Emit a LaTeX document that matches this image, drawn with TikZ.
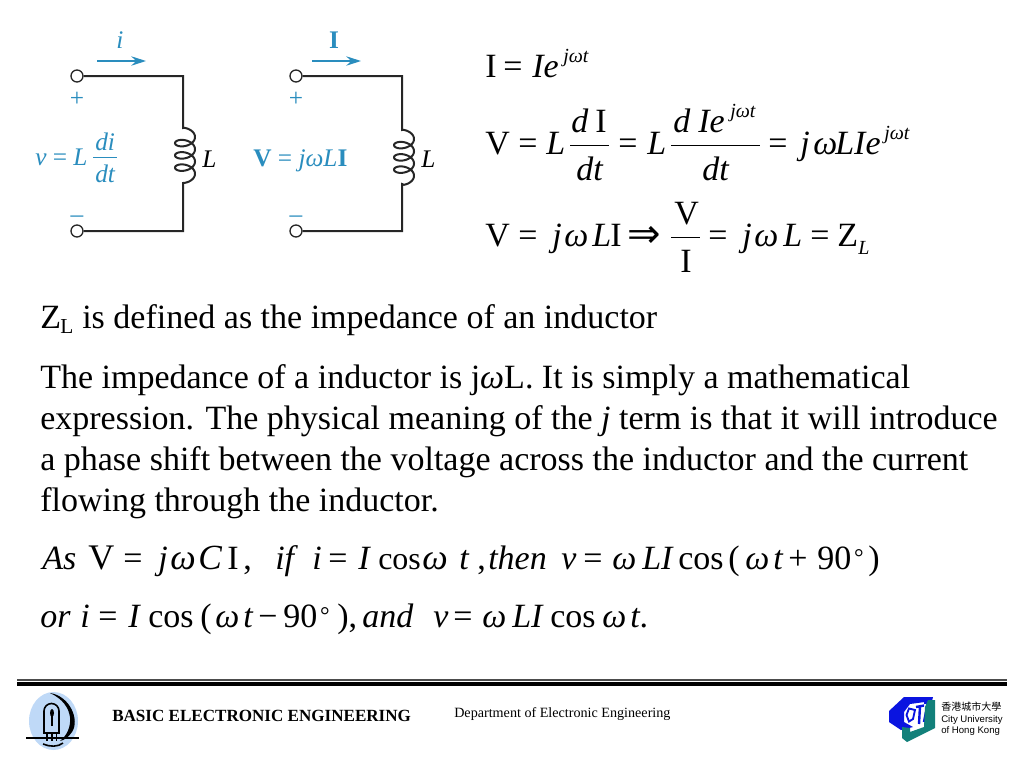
\documentclass[tikz,border=0pt]{standalone}
\usepackage{fontspec}
\setmainfont{Liberation Serif}
\newfontfamily\cjkfont{Noto Sans CJK TC}
\newfontfamily\logofont{Liberation Sans}
\newfontfamily\arrowfont{DejaVu Sans}
\usepackage{xcolor}
\usetikzlibrary{arrows.meta}
\definecolor{circuitblue}{HTML}{2A8DBE}
\definecolor{bulbblue}{HTML}{BFD9F7}
\definecolor{cityblue}{HTML}{0A14E0}
\definecolor{cityteal}{HTML}{12807A}
\newcommand{\iw}{\textit{ω}}
\newcommand{\bw}{{\fontsize{27}{27}\selectfont\textit{ω}}}
\newcommand{\degr}{\kern2.2pt\raisebox{3pt}{\fontsize{18}{18}\selectfont °}}
\begin{document}
\begin{tikzpicture}[x=0.75pt,y=-0.75pt,
	wire/.style={line width=1.5pt,black!85},
	terminal/.style={circle,draw=black!85,line width=1pt,fill=white,inner sep=0pt,minimum size=9pt},
	curlabel/.style={text=circuitblue,font=\fontsize{19}{19}\selectfont,anchor=base},
	curarrow/.style={-{Stealth[length=11pt,width=7pt]},circuitblue,line width=1.1pt},
	circtext/.style={text=circuitblue,font=\fontsize{19}{19}\selectfont,anchor=base west,inner sep=0pt},
	namelabel/.style={font=\fontsize{19}{19}\selectfont,anchor=base west,inner sep=0pt},
	eqn/.style={font=\fontsize{25.5}{25.5}\selectfont,anchor=base west,inner sep=0pt},
	eqsup/.style={font=\fontsize{15}{15}\selectfont,anchor=base west,inner sep=0pt},
	bodytext/.style={font=\fontsize{25.5}{25.5}\selectfont,anchor=base west,inner sep=0pt},
	footertext/.style={font=\fontsize{10.6}{10.6}\selectfont,anchor=base west,inner sep=0pt},
	logotext/.style={font=\logofont\fontsize{7.2}{7.2}\selectfont,anchor=base west,inner sep=0pt}]
	\useasboundingbox (0,0) rectangle (1024,768);
	% left circuit
	\node[terminal] (ta) at (77,76) {};
	\node[terminal] (tb) at (77,231) {};
	\coordinate (ca) at (183,76);
	\coordinate (cb) at (183,231);
	\coordinate (la) at (183,128);
	\coordinate (lb) at (183,183);
	\draw[wire] (ta) -- (ca) -- (la) -- plot[domain=-90:1170,samples=160,variable=\s] ({185+10*cos(\s)},{137+1.95*rad(\s)+6*sin(\s)}) -- (lb) -- (cb) -- (tb);
	\coordinate (ia) at (97,61);
	\coordinate (ib) at (146,61);
	\draw[curarrow] (ia) -- (ib);
	\node[curlabel] (ilabel) at (120,48) {\textit{i}};
	\node[curlabel] (pa) at (77,106) {+};
	\node[curlabel] (ma) at (77,222) {–};
	\node[circtext] (veq) at (35,165) {\textit{v} = \textit{L}};
	\node[circtext] (vnum) at (95,150) {\textit{di}};
	\node[circtext] (vden) at (95,182) {\textit{dt}};
	\coordinate (vbara) at (93,157);
	\coordinate (vbarb) at (117,157);
	\draw[circuitblue,line width=0.7pt] (vbara) -- (vbarb);
	\node[namelabel] (lname) at (202,167) {\textit{L}};
	% right circuit
	\node[terminal] (tc) at (296,76) {};
	\node[terminal] (td) at (296,231) {};
	\coordinate (cc) at (402,76);
	\coordinate (cd) at (402,231);
	\coordinate (lc) at (402,130);
	\coordinate (ld) at (402,184);
	\draw[wire] (tc) -- (cc) -- (lc) -- plot[domain=-90:1170,samples=160,variable=\s] ({404+10*cos(\s)},{139+1.95*rad(\s)+6*sin(\s)}) -- (ld) -- (cd) -- (td);
	\coordinate (ic) at (312,61);
	\coordinate (id) at (361,61);
	\draw[curarrow] (ic) -- (id);
	\node[curlabel] (ilabelb) at (334,48) {\textbf{I}};
	\node[curlabel] (pb) at (296,106) {+};
	\node[curlabel] (mb) at (296,222) {–};
	\node[circtext] (veqb) at (253,166) {\textbf{V} = \textit{j}\iw\textit{L}\textbf{I}};
	\node[namelabel] (lnameb) at (421,167) {\textit{L}};
	% equations
	\foreach \x/\txt in {485/I,503/=,532/\textit{Ie}}
		\node[eqn] (eqa\x) at (\x,77) {\txt};
	\node[eqsup] (eqas) at (563,62) {\textit{j}\iw\textit{t}};
	\foreach \x/\txt in {485/V,518/=,546/\textit{L},618/=,647/\textit{L},768/=,800/\textit{j},813/\iw,835/\textit{LIe}}
		\node[eqn] (eqb\x) at (\x,154) {\txt};
	\foreach \x/\txt in {571/\textit{d},595/I,673/\textit{d},698/\textit{Ie}}
		\node[eqn] (eqn\x) at (\x,132) {\txt};
	\foreach \x in {576,702}
		\node[eqn] (eqd\x) at (\x,180) {\textit{dt}};
	\node[eqsup] (eqcs) at (730,117) {\textit{j}\iw\textit{t}};
	\node[eqsup] (eqds) at (884,139) {\textit{j}\iw\textit{t}};
	\coordinate (bara) at (570,145);
	\coordinate (barb) at (609,145);
	\coordinate (barc) at (671,145);
	\coordinate (bard) at (760,145);
	\coordinate (bare) at (671,237);
	\coordinate (barf) at (700,237);
	\draw[line width=0.7pt] (bara) -- (barb) (barc) -- (bard) (bare) -- (barf);
	\foreach \x/\txt in {485/V,518/=,552/\textit{j},564/\iw,592/\textit{L},610/I,708/=,742/\textit{j},754/\iw,783/\textit{L},810/=,837/Z}
		\node[eqn] (eqe\x) at (\x,246) {\txt};
	\node[eqn,font=\arrowfont\fontsize{30}{30}\selectfont] (eqf) at (627,247) {⇒};
	\node[eqn] (eqfn) at (674,224) {V};
	\node[eqn] (eqfd) at (680,272) {I};
	\node[eqsup] (eqgs) at (858,254) {\textit{L}};
	% paragraph
	\node[bodytext] (za) at (40,328) {Z};
	\node[eqsup,font=\fontsize{16}{16}\selectfont] (zb) at (60,333) {L};
	\node[bodytext] (zc) at (82,328) {is defined as the impedance of an inductor};
	\node[bodytext] (pa1) at (40,388) {The impedance of a inductor is j\textit{ω}L. It is simply a mathematical};
	\node[bodytext] (pa2) at (40,429) {expression. The physical meaning of the \textit{j} term is that it will introduce};
	\node[bodytext] (pa3) at (40,470) {a phase shift between the voltage across the inductor and the current};
	\node[bodytext] (pa4) at (40,511) {flowing through the inductor.};
	% bottom equations
	\foreach \x/\txt in {42/\textit{As},88/{\fontsize{27}{27}\selectfont V},123/=,158/\textit{j},170/\bw,198/{\fontsize{26.5}{26.5}\selectfont\textit{C}},227/I,243/{,},275/\textit{if},312/\textit{i},328/=,358/\textit{I},378/{\fontsize{24}{24}\selectfont cos},422/\bw,459/\textit{t},477/{,},488/\textit{then},561/\textit{v},583/=,612/\iw,642/\textit{LI},678/cos,728/(,745/\iw,773/\textit{t},788/+,817/{90\degr},868/)}
		\node[eqn] (ra\x) at (\x,569) {\txt};
	\foreach \x/\txt in {40/\textit{or},80/\textit{i},98/=,128/\textit{I},148/cos,200/(,215/\iw,243/\textit{t},258/−,283/{90\degr},337/{),},362/\textit{and},433/\textit{v},453/=,482/\iw,512/\textit{LI},550/cos,602/\iw,630/{\textit{t}.}}
		\node[eqn] (rb\x) at (\x,627) {\txt};
	% footer
	\draw[line width=1pt,black!70] (17,680) -- (1007,680);
	\draw[line width=2.6pt,black] (17,684) -- (1007,684);
	\fill[bulbblue] (53.5,721) ellipse (24.5 and 29);
	\fill[black] (50,693) .. controls (70,696) and (80,720) .. (72,732) .. controls (68,738) and (64,740) .. (60,741) .. controls (74,730) and (76,705) .. cycle;
	\draw[line width=1.2pt,black] (44,733) -- (44,711) arc (180:360:7.5) -- (59,733) -- cycle;
	\fill[black] (52,713) ellipse (2 and 4);
	\draw[line width=1.6pt,black] (52,726) -- (52,713);
	\draw[line width=0.9pt,black] (47,733) -- (47,741) (52,733) -- (52,741) (56.5,733) -- (56.5,741);
	\draw[line width=1.3pt,black] (26,738) -- (79,738);
	\draw[line width=1.2pt,black] (43,744) .. controls (50,747) and (58,747) .. (63,743);
	\node[footertext,font=\bfseries\fontsize{12.8}{12.8}\selectfont] (fa) at (112,721) {BASIC ELECTRONIC ENGINEERING};
	\node[footertext] (fb) at (454,717) {Department of Electronic Engineering};
	\fill[cityblue] (889,711) -- (904,697) -- (933,697) -- (932,701) -- (910,704) -- (904,712) -- (904,722) -- (913,727) -- (901,730) -- (889,722) -- cycle;
	\draw[cityblue,line width=1.4pt] (909,708.5) -- (906.5,715) -- (909,721.5) -- (913,719) -- (915,710) -- cycle;
	\draw[cityblue,line width=1.8pt] (916,707) -- (924,705.5) (920,706) -- (919,724);
	\draw[cityblue,line width=1.8pt] (924,703) -- (932,701.5) (928,702) -- (924,722);
	\fill[cityteal] (928,700) -- (935,700) -- (935,728) -- (907,742) -- (902,738) -- (902,727) -- (910,728) -- (910,732) -- (924,727) -- (925,707) -- cycle;
	\node[logotext,font=\cjkfont\fontsize{7.5}{7.5}\selectfont] (ca1) at (941,710) {香港城市大學};
	\node[logotext] (ca2) at (941,722) {City University};
	\node[logotext] (ca3) at (941,733) {of Hong Kong};
\end{tikzpicture}
\end{document}
